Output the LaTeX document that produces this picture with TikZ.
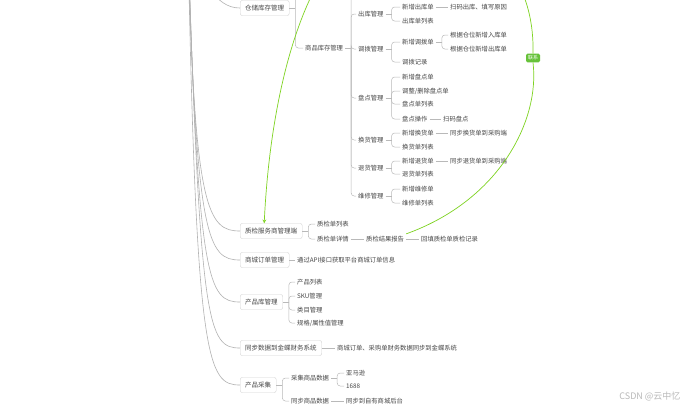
\documentclass[tikz,border=0pt]{standalone}
\usepackage{fontspec}
\setmainfont{Noto Sans CJK SC}
\usepackage{xcolor}
\usepackage{tikz}
\usetikzlibrary{positioning,arrows,calc}
\definecolor{relgreen}{RGB}{126,211,33}
\definecolor{lblgreen}{RGB}{103,194,58}
\definecolor{txtgray}{RGB}{70,70,70}

\begin{document}
\begin{tikzpicture}[
x=1pt, y=-1pt,
topic/.style={draw=gray!35, fill=white, rounded corners=2pt, anchor=west, text=txtgray, inner xsep=5pt, inner ysep=3pt, minimum height=15pt, font=\fontsize{6.5}{7}\selectfont},
leaf/.style={anchor=west, text=txtgray, inner sep=2pt, font=\fontsize{6.3}{7}\selectfont},
trunk/.style={draw=gray!60, line width=0.6pt},
link/.style={draw=gray!55, line width=0.5pt},
branch/.style={draw=gray!55, line width=0.5pt, to path={(\tikztostart) ++(6,0) [rounded corners=3pt] |- (\tikztotarget)}},
relation/.style={draw=relgreen, line width=0.7pt},
]

\fill[white] (0,0) rectangle (687,413);
\useasboundingbox (0,0) rectangle (687,413);
\clip (0,0) rectangle (687,413);

\coordinate (root) at (188,-60);
\coordinate (store_up) at (400,-30);
\coordinate (goods_up) at (420,-30);

%Main topics
\node[topic] (store_mgmt) at (240,8) {仓储库存管理};
\node[topic] (qc_mgmt) at (240,231) {质检服务商管理端};
\node[topic] (mall_order) at (240,260) {商城订单管理};
\node[topic] (prod_lib) at (240,302) {产品库管理};
\node[topic] (kd_sync) at (240,348) {同步数据到金蝶财务系统};
\node[topic] (collect) at (240,385) {产品采集};

%Stock
\node[leaf] (goods_stock) at (303,48) {商品库存管理};
\node[leaf] (out_mgmt) at (356,14) {出库管理};
\node[leaf] (move_mgmt) at (356,49) {调拨管理};
\node[leaf] (count_mgmt) at (356,98) {盘点管理};
\node[leaf] (swap_mgmt) at (356,140) {换货管理};
\node[leaf] (ret_mgmt) at (356,168) {退货管理};
\node[leaf] (fix_mgmt) at (356,196) {维修管理};

\node[leaf] (out_new) at (400,7) {新增出库单};
\node[leaf] (out_list) at (400,21) {出库单列表};
\node[leaf] (out_scan) at (448,7) {扫码出库、填写原因};
\node[leaf] (move_new) at (400,42) {新增调拨单};
\node[leaf] (move_log) at (400,62) {调拨记录};
\node[leaf] (move_in) at (448,35) {根据仓位新增入库单};
\node[leaf] (move_out) at (448,49) {根据仓位新增出库单};
\node[leaf] (count_new) at (400,77) {新增盘点单};
\node[leaf] (count_edit) at (400,91) {调整/删除盘点单};
\node[leaf] (count_list) at (400,104) {盘点单列表};
\node[leaf] (count_op) at (400,119) {盘点操作};
\node[leaf] (count_scan) at (441,119) {扫码盘点};
\node[leaf] (swap_new) at (400,133) {新增换货单};
\node[leaf] (swap_list) at (400,147) {换货单列表};
\node[leaf] (swap_sync) at (448,133) {同步换货单到采购端};
\node[leaf] (ret_new) at (400,161) {新增退货单};
\node[leaf] (ret_list) at (400,174) {退货单列表};
\node[leaf] (ret_sync) at (448,161) {同步退货单到采购端};
\node[leaf] (fix_new) at (400,189) {新增维修单};
\node[leaf] (fix_list) at (400,203) {维修单列表};

%Quality check
\node[leaf] (qc_list) at (315,224) {质检单列表};
\node[leaf] (qc_detail) at (315,239) {质检单详情};
\node[leaf] (qc_report) at (364,239) {质检结果报告};
\node[leaf] (qc_fill) at (419,239) {回填质检单质检记录};

%Orders, products, finance
\node[leaf] (mall_api) at (295,260) {通过API接口获取平台商城订单信息};
\node[leaf] (prod_list) at (295,282) {产品列表};
\node[leaf] (prod_sku) at (295,296) {SKU管理};
\node[leaf] (prod_cat) at (295,310) {类目管理};
\node[leaf] (prod_spec) at (295,323) {规格/属性值管理};
\node[leaf] (kd_text) at (335,348) {商城订单、采购单财务数据同步到金蝶系统};

%Collecting
\node[leaf] (coll_data) at (289,378) {采集商品数据};
\node[leaf] (coll_sync) at (289,401) {同步商品数据};
\node[leaf] (amazon) at (344,373) {亚马逊};
\node[leaf] (n1688) at (344,386) {1688};
\node[leaf] (own_mall) at (344,401) {同步到自有商城后台};

%Relation label
\node[fill=lblgreen, rounded corners=1.5pt, text=white, inner sep=2pt, font=\fontsize{5}{6}\selectfont] (rel_label) at (533,58) {联系};
\coordinate (rel_top) at (400,-80);

\node[text=gray!55, font=\fontsize{9}{10}\selectfont, anchor=east] (mark) at (684,396) {CSDN @云中忆};

%Root lines
\draw[trunk] (root) .. controls +(15,40) and +(-25,0) .. (store_mgmt.west);
\draw[trunk] (root) .. controls +(6,271) and +(-32,0) .. (qc_mgmt.west);
\draw[trunk] (root) .. controls +(8,300) and +(-32,0) .. (mall_order.west);
\draw[trunk] (root) .. controls +(10,342) and +(-32,0) .. (prod_lib.west);
\draw[trunk] (root) .. controls +(12,388) and +(-32,0) .. (kd_sync.west);
\draw[trunk] (root) .. controls +(8,425) and +(-32,0) .. (collect.west);

%Stock branches
\draw[link] (store_mgmt.east) -- ++(6,0);
\draw[branch] (store_mgmt.east) to (store_up);
\draw[branch] (store_mgmt.east) to (goods_stock.west);
\draw[link] (goods_stock.east) -- ++(6,0);
\draw[branch] (goods_stock.east) to (goods_up);
\draw[branch] (goods_stock.east) to (out_mgmt.west);
\draw[branch] (goods_stock.east) to (move_mgmt.west);
\draw[branch] (goods_stock.east) to (count_mgmt.west);
\draw[branch] (goods_stock.east) to (swap_mgmt.west);
\draw[branch] (goods_stock.east) to (ret_mgmt.west);
\draw[branch] (goods_stock.east) to (fix_mgmt.west);

\draw[link] (out_mgmt.east) -- ++(6,0);
\draw[branch] (out_mgmt.east) to (out_new.west);
\draw[branch] (out_mgmt.east) to (out_list.west);
\draw[link] (out_new.east) -- (out_scan.west);
\draw[link] (move_mgmt.east) -- ++(6,0);
\draw[branch] (move_mgmt.east) to (move_new.west);
\draw[branch] (move_mgmt.east) to (move_log.west);
\draw[link] (move_new.east) -- ++(6,0);
\draw[branch] (move_new.east) to (move_in.west);
\draw[branch] (move_new.east) to (move_out.west);
\draw[link] (count_mgmt.east) -- ++(6,0);
\draw[branch] (count_mgmt.east) to (count_new.west);
\draw[branch] (count_mgmt.east) to (count_edit.west);
\draw[branch] (count_mgmt.east) to (count_list.west);
\draw[branch] (count_mgmt.east) to (count_op.west);
\draw[link] (count_op.east) -- (count_scan.west);
\draw[link] (swap_mgmt.east) -- ++(6,0);
\draw[branch] (swap_mgmt.east) to (swap_new.west);
\draw[branch] (swap_mgmt.east) to (swap_list.west);
\draw[link] (swap_new.east) -- (swap_sync.west);
\draw[link] (ret_mgmt.east) -- ++(6,0);
\draw[branch] (ret_mgmt.east) to (ret_new.west);
\draw[branch] (ret_mgmt.east) to (ret_list.west);
\draw[link] (ret_new.east) -- (ret_sync.west);
\draw[link] (fix_mgmt.east) -- ++(6,0);
\draw[branch] (fix_mgmt.east) to (fix_new.west);
\draw[branch] (fix_mgmt.east) to (fix_list.west);

%Quality check branches
\draw[link] (qc_mgmt.east) -- ++(6,0);
\draw[branch] (qc_mgmt.east) to (qc_list.west);
\draw[branch] (qc_mgmt.east) to (qc_detail.west);
\draw[link] (qc_detail.east) -- (qc_report.west);
\draw[link] (qc_report.east) -- (qc_fill.west);

%Other branches
\draw[link] (mall_order.east) -- (mall_api.west);
\draw[link] (prod_lib.east) -- ++(6,0);
\draw[branch] (prod_lib.east) to (prod_list.west);
\draw[branch] (prod_lib.east) to (prod_sku.west);
\draw[branch] (prod_lib.east) to (prod_cat.west);
\draw[branch] (prod_lib.east) to (prod_spec.west);
\draw[link] (kd_sync.east) -- (kd_text.west);
\draw[link] (collect.east) -- ++(6,0);
\draw[branch] (collect.east) to (coll_data.west);
\draw[branch] (collect.east) to (coll_sync.west);
\draw[link] (coll_data.east) -- ++(6,0);
\draw[branch] (coll_data.east) to (amazon.west);
\draw[branch] (coll_data.east) to (n1688.west);
\draw[link] (coll_sync.east) -- (own_mall.west);

%Relation
\draw[relation] (qc_report.north east) .. controls (500,200) and (540,120) .. (rel_label.south);
\draw[relation, ->, >=stealth] (rel_label.north) .. controls (535,-30) and (480,-80) .. (rel_top) .. controls (320,-80) and (272,60) .. ([xshift=-7pt]qc_mgmt.north);
\end{tikzpicture}
\end{document}
